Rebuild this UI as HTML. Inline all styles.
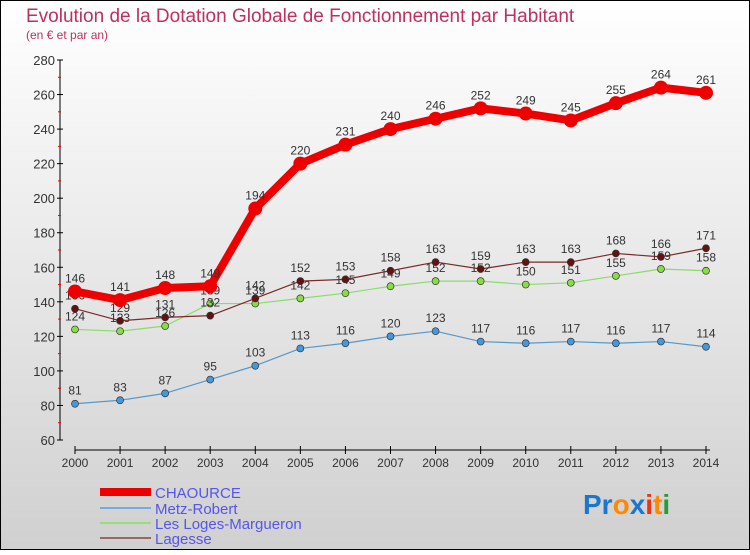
<!DOCTYPE html>
<html><head><meta charset="utf-8"><style>
html,body{margin:0;padding:0}
body{width:750px;height:550px;overflow:hidden;font-family:"Liberation Sans",sans-serif}
svg text{font-family:"Liberation Sans",sans-serif}
</style></head><body>
<svg id="chart" width="750" height="550" xmlns="http://www.w3.org/2000/svg">
<defs><linearGradient id="bg" x1="0" y1="0" x2="0" y2="1"><stop offset="0" stop-color="#ffffff"/><stop offset="1" stop-color="#d0d0d0"/></linearGradient></defs>
<rect x="0.5" y="0.5" width="749" height="549" fill="url(#bg)" stroke="#000"/>
<text x="26" y="22" font-size="19" fill="#c0305a">Evolution de la Dotation Globale de Fonctionnement par Habitant</text>
<text x="26" y="39" font-size="12" fill="#c0305a">(en € et par an)</text>
<g id="axes"></g>
<g id="series"></g>
<g>
<rect x="100" y="488" width="51" height="8" fill="#ee0000"/>
<text x="155" y="498" font-size="15" fill="#5555ee">CHAOURCE</text>
<rect x="100" y="507" width="51" height="2" fill="#77aadd"/>
<text x="155" y="514" font-size="15" fill="#5555ee">Metz-Robert</text>
<rect x="100" y="522" width="51" height="2" fill="#99dd77"/>
<text x="155" y="529" font-size="15" fill="#5555ee">Les Loges-Margueron</text>
<rect x="100" y="537" width="51" height="2" fill="#996666"/>
<text x="155" y="544" font-size="15" fill="#5555ee">Lagesse</text>
</g>
<g font-size="28" font-weight="bold">
<text x="583" y="514"><tspan fill="#1a77d0">Pr</tspan><tspan fill="#2a9a3a" font-size="0"></tspan><tspan fill="#ff8800">o</tspan><tspan fill="#1a77d0">x</tspan><tspan fill="#ee3311">i</tspan><tspan fill="#ff8800">t</tspan><tspan fill="#2a9a3a">i</tspan></text>
</g>
</svg>
<script>
const years=[2000,2001,2002,2003,2004,2005,2006,2007,2008,2009,2010,2011,2012,2013,2014];
const chaource=[146,141,148,149,194,220,231,240,246,252,249,245,255,264,261];
const metz=[81,83,87,95,103,113,116,120,123,117,116,117,116,117,114];
const loges=[124,123,126,139,139,142,145,149,152,152,150,151,155,159,158];
const lagesse=[136,129,131,132,142,152,153,158,163,159,163,163,168,166,171];
const yTicks=[60,80,100,120,140,160,180,200,220,240,260,280];
const NS="http://www.w3.org/2000/svg";
const x=i=>75+i*(706-75)/(years.length-1);
const y=v=>440-(v-60)*(380/220);
function mk(tag,attrs,parent){const e=document.createElementNS(NS,tag);for(const k in attrs)e.setAttribute(k,attrs[k]);parent.appendChild(e);return e;}
const ax=document.getElementById('axes');
const ya=mk('line',{x1:60,y1:60,x2:60,y2:440,stroke:'#000'},ax);


const xa=mk('line',{x1:75,y1:450,x2:710,y2:450,stroke:'#000'},ax);


yTicks.forEach(v=>{
 mk('line',{x1:57,y1:y(v),x2:63,y2:y(v),stroke:'#000'},ax);
 if(v<280) mk('line',{x1:58,y1:y(v+10),x2:61,y2:y(v+10),stroke:'#e00'},ax);
 const t=mk('text',{x:55,y:y(v)+5,'font-size':13,'text-anchor':'end',fill:'#333'},ax);
 
 
 t.textContent=v;
});
years.forEach((yr,i)=>{
 mk('line',{x1:x(i),y1:446,x2:x(i),y2:454,stroke:'#000'},ax);
 const t=mk('text',{x:x(i),y:467,'font-size':12,'text-anchor':'middle',fill:'#333'},ax);
 
 
 t.textContent=yr;
});
const sg=document.getElementById('series');
function series(name,vals,color,w,r,pc){
 const g=mk('g',{},sg);
 
 
 mk('polyline',{points:vals.map((v,i)=>x(i)+','+y(v)).join(' '),fill:'none',stroke:color,'stroke-width':w,'stroke-linejoin':'round'},g);
 vals.forEach((v,i)=>{
  const c=mk('circle',{cx:x(i),cy:y(v),r:r,fill:pc,stroke:'#333','stroke-width':r>5?0:0.7},g);
  
  
  const t=mk('text',{x:x(i),y:y(v)-9,'font-size':12,'text-anchor':'middle',fill:'#333'},g);
  
  
  t.textContent=v;
 });
}
series('metz-robert-series',metz,'#5599cc',1.2,3.5,'#4499dd');
series('les-loges-series',loges,'#88dd66',1.2,3.5,'#88dd44');
series('lagesse-series',lagesse,'#7a2a2a',1.2,3.5,'#661111');
series('chaource-series',chaource,'#ee0000',8,7,'#ee0000');
</script>
</body></html>
